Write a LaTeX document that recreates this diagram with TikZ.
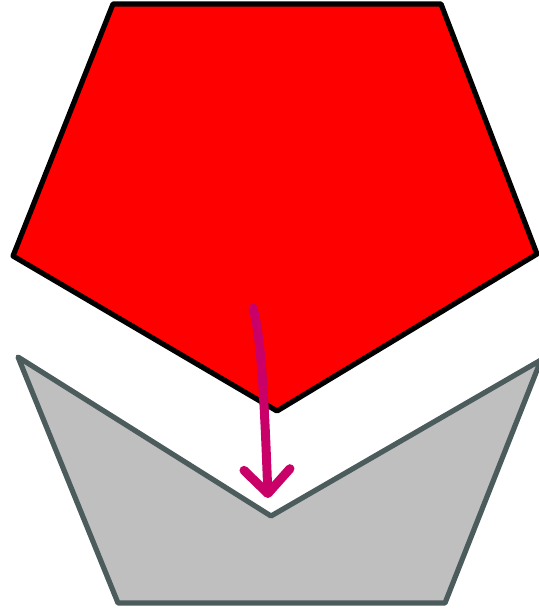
\documentclass[tikz,border=0pt]{standalone}
\usetikzlibrary{arrows.meta}
\definecolor{slate}{RGB}{76,92,92}
\definecolor{plum}{RGB}{200,0,104}
\begin{document}
\begin{tikzpicture}[x=0.5pt,y=-0.5pt,line join=round,
  top/.style={draw=black,fill=red,line width=2.6pt},
  base/.style={draw=slate,fill=black!25,line width=2.6pt},
  move/.style={draw=plum,line width=4.5pt,line cap=round,
    -{Straight Barb[round,length=12pt,width=23pt]}}]
\useasboundingbox (0,0) rectangle (539,609);
% upper shape
\draw[top] (113,4) -- (441,4) -- (537,254) -- (277,411) -- (13,256) -- cycle;
% lower shape
\draw[base] (18,357) -- (271,516) -- (541,360) -- (445,603) -- (118,603) -- cycle;
% the move
\coordinate (from) at (253,308);
\coordinate (to) at (268,498);
\draw[move] (from) .. controls (259,332) and (263,360) .. (to);
\end{tikzpicture}
\end{document}
